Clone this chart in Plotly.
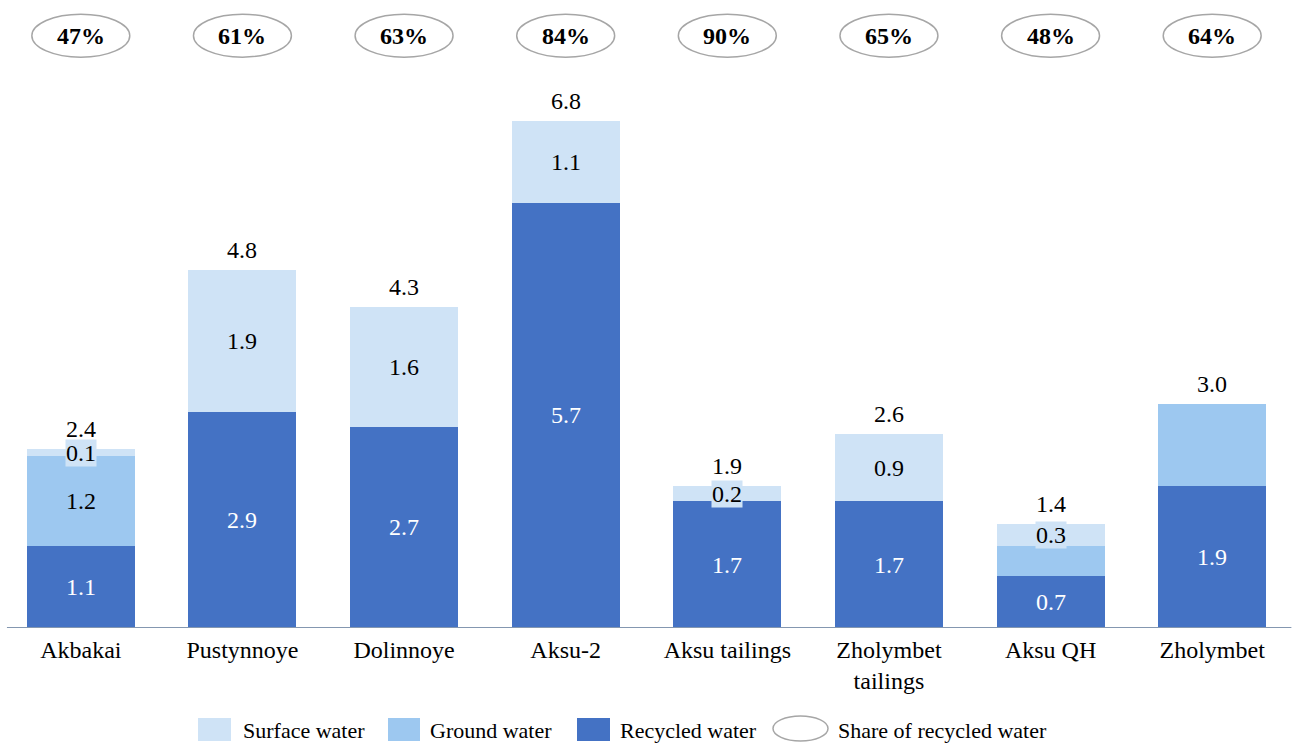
import plotly.graph_objects as go

# Water intake by site, million m3
sites = ["Akbakai", "Pustynnoye", "Dolinnoye", "Aksu-2", "Aksu tailings",
         "Zholymbet<br>tailings", "Aksu QH", "Zholymbet"]
recycled = [1.1, 2.9, 2.7, 5.7, 1.7, 1.7, 0.7, 1.9]
ground = [1.2, 0.0, 0.0, 0.0, 0.0, 0.0, 0.4, 1.1]
surface = [0.1, 1.9, 1.6, 1.1, 0.2, 0.9, 0.3, 0.0]
ground_labelled = [True, False, False, False, False, False, False, False]
share_recycled = [47, 61, 63, 84, 90, 65, 48, 64]

C_REC = "#4472C4"
C_GRD = "#9DC8F0"
C_SUR = "#CFE3F6"
FONT = "Liberation Serif"

W, H = 1295, 747
ML, MR, MT, MB = 0, 2, 0, 119
PW, PH = W - ML - MR, H - MT - MB
Y_TOP = 8.418
SHARE_Y = 7.94

fig = go.Figure()
for name, vals, col in [("Recycled water", recycled, C_REC),
                        ("Ground water", ground, C_GRD),
                        ("Surface water", surface, C_SUR)]:
    fig.add_trace(go.Bar(x=sites, y=vals, name=name, marker=dict(color=col, line=dict(width=0)),
                         width=0.668, showlegend=False, hoverinfo="x+y+name"))

ann = []
shapes = []
for i, s in enumerate(sites):
    r, g, sf = recycled[i], ground[i], surface[i]
    total = r + g + sf
    # segment labels
    ann.append(dict(x=s, y=r / 2, text=f"{r:.1f}", showarrow=False,
                    font=dict(family=FONT, size=24, color="white")))
    if g > 0 and ground_labelled[i]:
        ann.append(dict(x=s, y=r + g / 2, text=f"{g:.1f}", showarrow=False,
                        font=dict(family=FONT, size=24, color="black")))
    if sf > 0:
        small = sf < 0.5
        ann.append(dict(x=s, y=r + g + sf / 2, text=f"{sf:.1f}", showarrow=False,
                        font=dict(family=FONT, size=24, color="black"),
                        bgcolor=C_SUR if small else None, borderpad=0))
    # total above the bar
    ann.append(dict(x=s, y=total, text=f"{total:.1f}", showarrow=False, yshift=20,
                    font=dict(family=FONT, size=24, color="black")))
    # share of recycled water in an ellipse
    shapes.append(dict(type="circle", xref="x", yref="y",
                       x0=i - 0.303, x1=i + 0.303,
                       y0=SHARE_Y - 0.288, y1=SHARE_Y + 0.288,
                       line=dict(color="#A6A6A6", width=1.5), fillcolor="white", layer="below"))
    ann.append(dict(x=s, y=SHARE_Y, text=f"<b>{share_recycled[i]}%</b>", showarrow=False,
                    font=dict(family=FONT, size=24, color="black")))

# category axis line
shapes.append(dict(type="line", xref="x", yref="y", x0=-0.457, x1=7.49, y0=0, y1=0,
                   line=dict(color="#8497B0", width=2)))


def px_x(px):
    return (px - ML) / PW


def px_y(py):
    return (MT + PH - py) / PH


# legend drawn below the axis
legend_items = [
    ("rect", C_SUR, 198, 231, "Surface water", 241),
    ("rect", C_GRD, 388, 420, "Ground water", 428),
    ("rect", C_REC, 577, 610, "Recycled water", 618),
    ("circle", "white", 773, 828, "Share of recycled water", 836),
]
for kind, col, x0, x1, label, tx in legend_items:
    if kind == "rect":
        shapes.append(dict(type="rect", xref="paper", yref="paper",
                           x0=px_x(x0), x1=px_x(x1), y0=px_y(741), y1=px_y(718),
                           fillcolor=col, line=dict(width=0)))
    else:
        shapes.append(dict(type="circle", xref="paper", yref="paper",
                           x0=px_x(x0), x1=px_x(x1), y0=px_y(741), y1=px_y(716),
                           fillcolor=col, line=dict(color="#A6A6A6", width=1.5)))
    ann.append(dict(x=px_x(tx), y=px_y(730), xref="paper", yref="paper", text=label,
                    showarrow=False, xanchor="left", yanchor="middle",
                    font=dict(family=FONT, size=22, color="black")))

fig.update_layout(
    width=W, height=H,
    margin=dict(l=ML, r=MR, t=MT, b=MB),
    barmode="stack", bargap=0.332,
    plot_bgcolor="white", paper_bgcolor="white",
    font=dict(family=FONT, color="black"),
    xaxis=dict(type="category", range=[-0.5, 7.5], showline=False, showgrid=False,
               ticks="", ticklabelstandoff=5,
               tickfont=dict(family=FONT, size=24, color="black")),
    yaxis=dict(range=[0, Y_TOP], visible=False),
    annotations=ann, shapes=shapes,
)

fig.write_html("out.html")
